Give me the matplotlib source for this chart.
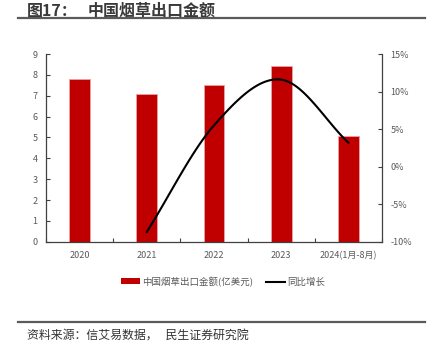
import numpy as np
import matplotlib
matplotlib.use('Agg')
from matplotlib import pyplot as plt
from matplotlib.lines import Line2D
from matplotlib.patches import Patch

plt.rcParams['font.family'] = ['Noto Sans CJK SC', 'DejaVu Sans']

years = ['2020', '2021', '2022', '2023', '2024(1月-8月)']
export_value = [7.79, 7.11, 7.51, 8.41, 5.08]  # 亿美元
yoy = [None, -8.7, 5.5, 11.6, 3.2]  # %

fig_no = '图17：'
title = '中国烟草出口金额'
source = '资料来源：信艾易数据，   民生证券研究院'
bar_label = '中国烟草出口金额(亿美元)'
line_label = '同比增长'

RED = '#C00000'
GREY = '#595959'
AX = '#404040'


def smooth(xs, ys, n=40):
    # catmull-rom style smoothing like the excel "smoothed line"
    xs = np.asarray(xs, float)
    ys = np.asarray(ys, float)
    px = np.concatenate([[2 * xs[0] - xs[1]], xs, [2 * xs[-1] - xs[-2]]])
    py = np.concatenate([[2 * ys[0] - ys[1]], ys, [2 * ys[-1] - ys[-2]]])
    out_x, out_y = [], []
    for i in range(1, len(px) - 2):
        t = np.linspace(0, 1, n)
        p0, p1, p2, p3 = px[i - 1], px[i], px[i + 1], px[i + 2]
        q0, q1, q2, q3 = py[i - 1], py[i], py[i + 1], py[i + 2]
        b1x, b1y = p1 + (p2 - p0) / 6, q1 + (q2 - q0) / 6
        b2x, b2y = p2 - (p3 - p1) / 6, q2 - (q3 - q1) / 6
        bx = (1-t)**3*p1 + 3*(1-t)**2*t*b1x + 3*(1-t)*t**2*b2x + t**3*p2
        by = (1-t)**3*q1 + 3*(1-t)**2*t*b1y + 3*(1-t)*t**2*b2y + t**3*q2
        out_x.extend(bx)
        out_y.extend(by)
    return np.array(out_x), np.array(out_y)


fig = plt.figure(figsize=(4.36, 3.56), dpi=100)
ax = fig.add_axes([0.1055, 0.321, 0.7705, 0.527])
ax2 = ax.twinx()

x = np.arange(len(years))
ax.bar(x, export_value, width=0.31, color=RED, edgecolor='#E9A3A3', linewidth=0.6, zorder=2)
ax.set_xlim(-0.5, len(years) - 0.5)
ax.set_ylim(0, 9)
ax.set_yticks(range(0, 10))

pts = [(i, v) for i, v in enumerate(yoy) if v is not None]
sx, sy = smooth([p[0] for p in pts], [p[1] for p in pts])
ax2.plot(sx, sy, color='black', lw=1.5, zorder=3)
ax2.set_ylim(-10, 15)
ax2.set_yticks(range(-10, 16, 5))
ax2.set_yticklabels([f'{v}%' for v in range(-10, 16, 5)])

ax.set_xticks(x)
ax.set_xticklabels(years)
ax.set_xticks(np.arange(-0.5, len(years), 1), minor=True)
ax.tick_params(axis='x', which='major', length=0, pad=7, labelsize=6.5, labelcolor=GREY)
ax.tick_params(axis='x', which='minor', length=3, direction='in', color=AX, width=0.8)
ax.tick_params(axis='y', length=3, direction='in', color=AX, width=0.8, labelsize=6.5, labelcolor=GREY, pad=6)
ax2.tick_params(axis='y', length=3, direction='in', color=AX, width=0.8, labelsize=6.5, labelcolor=GREY, pad=6)

for a in (ax, ax2):
    a.spines['top'].set_visible(False)
    for s in ('left', 'right', 'bottom'):
        a.spines[s].set_color(AX)
        a.spines[s].set_linewidth(0.9)
ax.spines['right'].set_visible(False)
ax2.spines['left'].set_visible(False)
ax2.spines['bottom'].set_visible(False)

handles = [Patch(facecolor=RED, edgecolor='none'), Line2D([], [], color='black', lw=1.5)]
fig.legend(handles, [bar_label, line_label], loc='center', bbox_to_anchor=(0.512, 0.209),
           ncol=2, frameon=False, fontsize=6.8, labelcolor=GREY, handlelength=2.0,
           handleheight=0.6, columnspacing=1.4, handletextpad=0.25)

fig.text(0.062, 0.992, fig_no, fontsize=11.5, fontweight='bold', color='#3a3a3a', va='top', ha='left')
fig.text(0.2, 0.992, title, fontsize=11.5, fontweight='bold', color='#3a3a3a', va='top', ha='left')
fig.add_artist(Line2D([0.041, 0.975], [0.949, 0.949], color='#5a5a5a', lw=1.6))
fig.add_artist(Line2D([0.041, 0.975], [0.096, 0.096], color='#5a5a5a', lw=1.6))
fig.text(0.062, 0.06, source, fontsize=8.6, color='#333333', va='center', ha='left')

fig.savefig('out.png', dpi=100)
